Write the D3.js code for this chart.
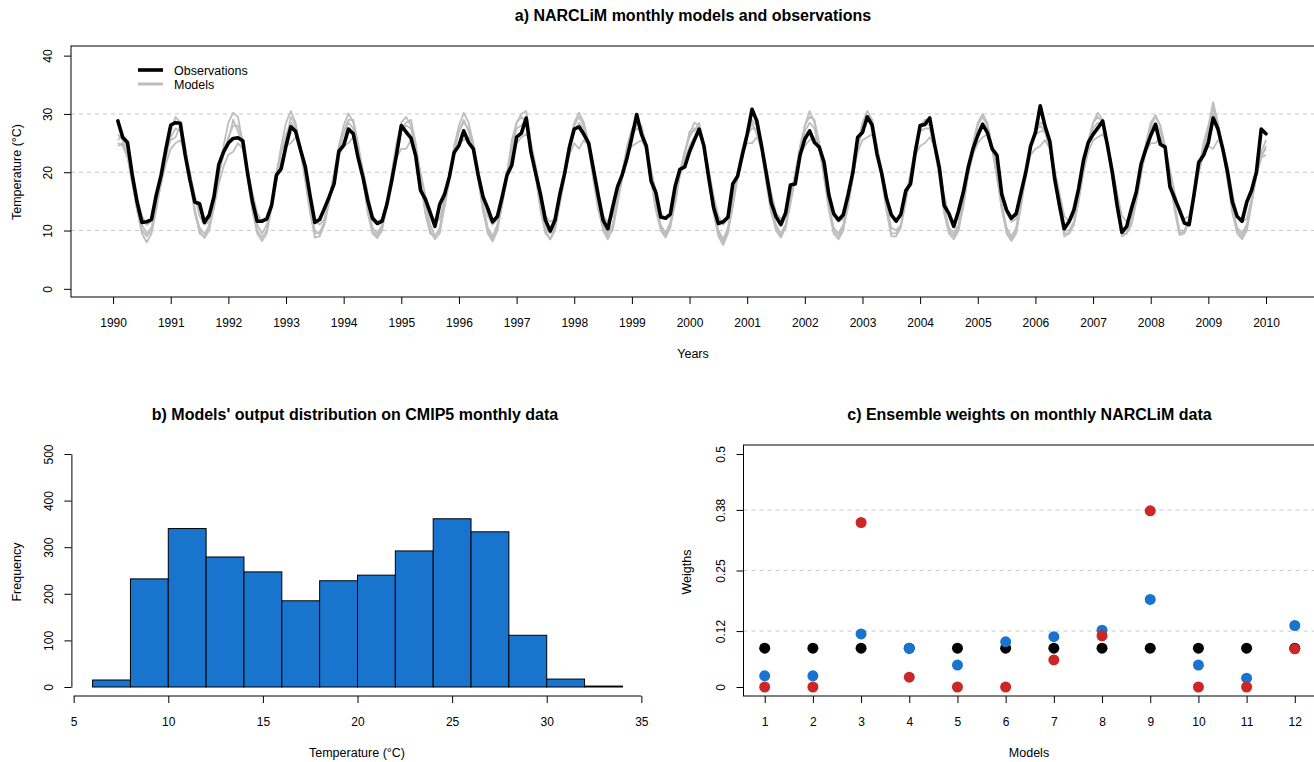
<!DOCTYPE html>
<html>
<head>
<meta charset="utf-8">
<script src="https://cdn.jsdelivr.net/npm/d3@7"></script>
<style>
  body { margin: 0; background: #fff; }
  svg text { font-family: "Liberation Sans", Arial, Helvetica, sans-serif; }
</style>
</head>
<body>
<div id="chart"></div>
<script>
/** DATA */
// monthly series, first value = Jan 1990 (plotted at 1990 + 1/12)
const startYear = 1990;
const yearTicks = [1990, 1991, 1992, 1993, 1994, 1995, 1996, 1997, 1998, 1999, 2000,
  2001, 2002, 2003, 2004, 2005, 2006, 2007, 2008, 2009, 2010];
const tempTicks = [0, 10, 20, 30, 40];
const tempGrid = [10, 20, 30];

const observations = [
  28.8, 26.0, 25.1, 19.5, 14.9, 11.4, 11.5, 11.9, 16.1, 19.5, 24.0, 28.1,
  28.5, 28.4, 23.0, 18.7, 14.9, 14.6, 11.4, 12.6, 15.8, 21.3, 23.5, 25.0,
  25.8, 25.9, 25.4, 19.8, 15.0, 11.6, 11.6, 12.0, 14.3, 19.5, 20.6, 24.5,
  27.8, 27.0, 23.9, 21.0, 16.0, 11.4, 11.9, 13.8, 15.8, 18.0, 23.6, 24.6,
  27.4, 26.6, 22.5, 19.2, 15.2, 12.1, 11.2, 11.6, 14.5, 18.5, 23.0, 28.0,
  26.9, 25.9, 22.8, 16.9, 15.4, 13.1, 10.7, 14.5, 16.2, 19.2, 23.4, 24.6,
  27.1, 25.1, 24.0, 19.5, 15.8, 13.8, 11.5, 12.4, 15.8, 19.5, 21.2, 26.0,
  26.7, 29.3, 23.4, 19.7, 16.1, 11.8, 9.9, 11.8, 16.2, 19.8, 24.3, 27.4,
  27.8, 26.5, 25.0, 20.5, 16.0, 11.8, 10.3, 14.0, 17.5, 19.6, 22.5, 26.0,
  29.9, 26.5, 24.5, 18.5, 16.5, 12.3, 12.1, 12.8, 17.6, 20.5, 20.9, 23.5,
  25.5, 27.4, 24.5, 19.0, 14.0, 11.2, 11.5, 12.3, 18.0, 19.3, 23.0, 26.5,
  30.8, 28.8, 24.5, 19.7, 14.8, 12.4, 11.0, 13.0, 17.8, 18.0, 22.9, 25.7,
  27.1, 25.1, 24.3, 21.7, 16.1, 12.9, 11.8, 12.7, 16.1, 20.0, 26.0, 26.8,
  29.5, 28.1, 23.2, 19.8, 15.5, 12.7, 11.6, 12.8, 16.8, 18.0, 23.5, 28.0,
  28.2, 29.3, 24.8, 20.8, 14.3, 12.9, 10.7, 13.4, 16.6, 20.8, 24.0, 26.3,
  28.2, 26.8, 24.0, 22.9, 16.2, 13.5, 12.1, 12.9, 16.5, 20.0, 24.5, 26.8,
  31.4, 27.9, 25.3, 18.9, 14.4, 10.3, 11.5, 13.5, 17.2, 22.0, 25.1, 26.5,
  27.6, 28.8, 24.6, 20.0, 14.4, 9.7, 10.7, 13.8, 16.6, 21.4, 24.0, 26.3,
  28.2, 24.8, 24.3, 17.5, 15.5, 13.5, 11.3, 11.0, 16.1, 21.7, 22.9, 25.1,
  29.3, 27.4, 24.0, 20.0, 14.9, 12.4, 11.6, 14.9, 16.9, 20.0, 27.4, 26.6
];

const modelA = [
  26.5, 25.5, 23.0, 18.5, 13.5, 9.5, 8.0, 9.5, 13.5, 18.5, 23.5, 27.0,
  29.5, 28.5, 24.5, 19.0, 13.0, 10.0, 8.7, 10.0, 14.0, 19.0, 24.5, 28.5,
  30.2, 29.5, 25.0, 19.5, 13.5, 9.5, 8.2, 9.5, 14.0, 19.5, 24.5, 28.5,
  30.5, 28.5, 24.0, 19.0, 13.5, 8.8, 9.0, 11.0, 15.0, 19.5, 24.5, 28.0,
  30.1, 28.5, 24.5, 19.0, 13.0, 9.5, 8.7, 10.0, 14.5, 20.0, 25.0, 28.5,
  29.5, 28.0, 24.0, 18.5, 13.0, 10.0, 8.5, 9.5, 14.5, 19.0, 24.5, 28.0,
  30.2, 28.5, 25.0, 19.0, 13.5, 9.5, 8.1, 10.0, 14.5, 19.5, 25.5, 28.5,
  30.0, 30.5, 25.0, 19.5, 13.5, 9.5, 8.5, 10.0, 15.0, 20.0, 25.0, 28.5,
  30.2, 28.5, 25.0, 19.0, 14.0, 10.0, 8.5, 10.5, 15.0, 20.0, 24.5, 27.5,
  28.5, 27.5, 24.0, 18.5, 13.5, 10.0, 8.8, 10.5, 15.0, 20.0, 23.5, 26.5,
  28.5, 28.0, 24.0, 18.5, 13.0, 9.0, 7.5, 9.5, 14.5, 19.5, 24.0, 27.0,
  29.0, 28.0, 24.0, 18.5, 13.5, 10.0, 8.8, 10.5, 15.0, 19.5, 24.5, 28.0,
  30.5, 28.5, 24.5, 19.0, 13.5, 9.5, 8.5, 10.0, 14.5, 19.5, 25.0, 28.5,
  30.5, 29.0, 24.5, 19.0, 13.5, 9.0, 9.0, 10.5, 15.0, 19.5, 24.5, 28.0,
  29.0, 29.0, 24.5, 19.0, 13.0, 9.5, 8.5, 10.0, 14.5, 20.0, 25.0, 28.5,
  30.0, 28.5, 24.0, 19.0, 14.0, 9.5, 8.2, 9.5, 14.5, 20.0, 24.5, 27.5,
  28.5, 28.0, 24.0, 18.5, 13.5, 9.0, 9.5, 11.0, 15.5, 20.5, 25.5, 28.5,
  30.2, 29.0, 24.5, 19.0, 13.5, 9.0, 9.5, 11.0, 15.0, 20.0, 25.0, 28.5,
  29.8, 28.0, 24.0, 19.0, 13.5, 9.2, 9.5, 11.5, 15.5, 20.5, 25.0, 28.0,
  32.0, 28.5, 24.0, 18.5, 13.0, 9.5, 8.5, 10.0, 14.5, 19.5, 23.5, 25.5
];

const modelB = [
  24.5, 25.0, 23.0, 19.5, 15.5, 12.5, 11.0, 11.5, 14.5, 18.0, 21.5, 24.0,
  25.0, 25.5, 23.5, 20.0, 16.0, 12.5, 11.0, 11.5, 14.0, 18.0, 21.0, 23.0,
  23.5, 25.0, 24.0, 20.5, 16.5, 13.0, 11.5, 12.0, 14.5, 18.5, 22.0, 24.5,
  25.0, 26.0, 24.5, 20.5, 16.0, 12.0, 11.0, 12.0, 15.5, 19.5, 23.0, 24.5,
  25.0, 26.0, 24.5, 20.5, 16.5, 12.5, 11.5, 12.0, 15.0, 19.0, 22.5, 24.0,
  24.0, 25.5, 24.0, 20.0, 16.0, 13.0, 11.5, 12.0, 15.5, 19.5, 23.0, 25.0,
  25.5, 26.0, 24.5, 20.5, 16.5, 12.5, 11.0, 12.0, 15.0, 19.5, 23.0, 25.0,
  26.0, 26.5, 25.0, 21.0, 16.5, 12.5, 11.5, 12.0, 15.5, 19.5, 23.0, 25.0,
  24.0, 25.5, 24.5, 20.5, 16.0, 12.5, 11.5, 12.5, 16.0, 20.0, 23.0, 24.5,
  25.0, 25.5, 24.0, 20.5, 16.5, 13.0, 12.0, 12.5, 16.0, 19.5, 22.0, 24.5,
  26.0, 26.5, 24.5, 20.5, 16.0, 12.5, 11.0, 12.0, 15.5, 19.5, 23.0, 25.0,
  25.0, 26.0, 24.5, 20.5, 16.5, 13.0, 12.0, 12.5, 16.0, 19.5, 23.0, 24.5,
  25.5, 26.0, 24.5, 21.0, 16.5, 12.5, 11.5, 12.0, 15.5, 19.5, 23.5, 25.5,
  26.0, 26.5, 24.5, 20.5, 16.0, 12.5, 11.5, 12.5, 16.0, 19.5, 23.0, 24.5,
  25.0, 26.0, 24.5, 20.5, 16.0, 12.5, 11.5, 12.0, 15.5, 19.5, 23.0, 25.0,
  26.0, 26.5, 24.5, 20.5, 16.5, 13.0, 11.5, 12.0, 15.5, 19.5, 23.0, 24.0,
  24.5, 25.5, 24.0, 20.5, 16.5, 12.5, 11.5, 12.5, 16.0, 20.0, 23.5, 25.5,
  26.0, 26.5, 25.0, 21.0, 16.5, 12.5, 11.5, 12.5, 16.0, 20.0, 23.5, 25.0,
  25.0, 26.0, 24.5, 20.5, 16.5, 13.0, 12.0, 12.5, 16.0, 20.0, 23.0, 24.5,
  24.0, 25.5, 24.5, 21.0, 16.5, 12.5, 11.5, 12.0, 15.5, 19.5, 22.5, 23.0
];

const modelC = [
  25.5, 26.5, 24.0, 20.0, 14.5, 11.0, 9.5, 10.5, 14.0, 18.5, 22.5, 26.0,
  27.5, 27.0, 23.0, 18.5, 13.5, 10.5, 9.5, 10.5, 14.5, 19.5, 23.0, 26.0,
  28.0, 28.0, 25.5, 20.0, 14.5, 11.0, 9.5, 11.0, 15.0, 19.5, 23.5, 26.5,
  28.5, 27.5, 24.5, 20.0, 14.0, 10.0, 9.5, 11.5, 15.5, 20.0, 24.0, 26.5,
  28.5, 27.5, 24.0, 19.5, 14.5, 10.5, 9.5, 11.0, 15.0, 19.5, 24.0, 27.0,
  28.0, 27.5, 24.5, 19.5, 14.5, 11.0, 9.0, 10.5, 15.0, 19.5, 24.0, 27.0,
  28.5, 27.5, 24.5, 19.5, 14.5, 10.5, 9.0, 11.0, 15.0, 20.0, 24.5, 27.5,
  28.0, 29.0, 24.5, 20.0, 14.5, 10.5, 9.5, 11.0, 15.5, 20.0, 24.5, 27.0,
  28.5, 27.5, 24.5, 19.5, 14.5, 11.0, 9.5, 11.0, 15.5, 20.0, 24.0, 26.5,
  27.5, 27.0, 23.5, 19.0, 14.5, 11.0, 9.5, 11.5, 15.5, 20.0, 23.5, 26.0,
  27.5, 27.5, 24.0, 19.5, 14.0, 10.0, 8.5, 10.5, 15.0, 20.0, 24.0, 26.5,
  27.5, 27.5, 24.0, 19.0, 14.0, 11.0, 9.5, 11.0, 15.5, 20.0, 24.0, 27.0,
  28.5, 27.5, 24.0, 19.5, 14.5, 10.5, 9.5, 11.0, 15.0, 20.0, 24.5, 27.0,
  29.0, 28.0, 24.5, 19.5, 14.5, 10.5, 10.0, 11.0, 15.5, 20.0, 24.0, 27.0,
  27.5, 27.5, 24.0, 19.5, 14.0, 10.5, 9.5, 11.0, 15.0, 20.0, 24.5, 27.0,
  28.5, 27.5, 24.0, 19.5, 14.5, 10.5, 9.0, 10.5, 15.0, 20.0, 24.0, 26.5,
  27.0, 27.0, 24.0, 19.0, 14.5, 10.0, 10.0, 11.5, 16.0, 20.5, 25.0, 27.5,
  28.5, 28.0, 24.5, 19.5, 14.0, 10.0, 10.0, 11.5, 15.5, 20.0, 24.5, 27.5,
  28.5, 27.0, 24.0, 19.5, 14.5, 10.0, 10.0, 12.0, 16.0, 20.5, 24.5, 27.0,
  30.0, 27.5, 24.0, 19.0, 14.0, 10.5, 9.5, 11.0, 15.0, 19.5, 22.5, 24.5
];

const modelD = [
  25.0, 24.5, 22.5, 18.0, 13.5, 10.0, 9.0, 10.0, 14.5, 19.0, 23.5, 25.5,
  26.0, 28.0, 24.5, 19.0, 13.5, 9.5, 9.0, 11.0, 15.0, 20.0, 23.5, 25.5,
  29.0, 27.0, 24.5, 19.0, 13.5, 10.0, 8.8, 10.0, 14.5, 20.0, 23.5, 25.5,
  29.5, 28.0, 23.5, 18.5, 13.0, 9.5, 9.5, 11.5, 15.0, 19.5, 23.0, 27.0,
  29.0, 29.0, 25.0, 19.5, 13.5, 10.0, 9.0, 10.5, 14.0, 19.0, 24.0, 27.5,
  28.5, 29.0, 25.0, 19.0, 13.0, 9.5, 9.0, 10.0, 14.0, 18.5, 23.5, 27.0,
  29.0, 27.0, 24.0, 19.0, 13.5, 10.0, 8.5, 10.5, 14.5, 19.0, 24.0, 28.5,
  29.5, 28.5, 24.0, 19.0, 13.5, 10.0, 8.5, 10.5, 14.5, 19.0, 24.0, 28.0,
  29.5, 28.0, 24.0, 18.5, 13.5, 10.5, 9.0, 10.0, 14.5, 19.0, 23.5, 27.0,
  28.0, 28.0, 24.5, 19.0, 13.5, 10.5, 9.0, 11.0, 14.5, 19.5, 23.0, 27.0,
  27.0, 28.5, 24.5, 19.0, 13.5, 9.5, 8.0, 10.0, 14.0, 19.0, 23.5, 26.0,
  28.5, 26.5, 23.5, 18.0, 13.0, 10.5, 9.0, 10.5, 14.5, 19.0, 23.5, 28.0,
  29.5, 29.0, 25.0, 20.0, 14.0, 10.0, 9.0, 10.5, 14.0, 19.0, 24.0, 28.5,
  29.5, 29.0, 24.5, 19.0, 13.5, 9.5, 9.5, 11.0, 15.0, 19.5, 23.5, 27.5,
  28.5, 28.0, 25.0, 19.5, 13.5, 10.0, 9.0, 10.5, 14.0, 19.5, 24.5, 28.0,
  29.5, 28.0, 24.5, 19.5, 13.5, 10.0, 8.5, 10.0, 14.0, 19.5, 24.0, 27.0,
  28.0, 27.0, 24.0, 19.0, 13.5, 9.5, 9.5, 11.0, 15.0, 20.0, 25.0, 28.5,
  29.5, 28.5, 25.0, 19.5, 13.5, 9.5, 9.5, 11.5, 15.0, 19.5, 24.5, 28.0,
  29.5, 28.0, 24.5, 19.0, 13.5, 9.5, 9.8, 11.5, 15.5, 20.0, 24.0, 27.5,
  31.0, 28.0, 24.0, 19.0, 13.5, 10.0, 9.0, 10.5, 15.0, 19.5, 23.0, 24.0
];
const models = [modelA, modelB, modelC, modelD];

// histogram of model output (bins of 2 degC)
const histBreaks = [6, 8, 10, 12, 14, 16, 18, 20, 22, 24, 26, 28, 30, 32, 34];
const histCounts = [15, 232, 340, 279, 247, 185, 228, 240, 292, 361, 333, 111, 17, 2];
const histXTicks = [5, 10, 15, 20, 25, 30, 35];
const histYTicks = [0, 100, 200, 300, 400, 500];

// ensemble weights
const modelIds = [1, 2, 3, 4, 5, 6, 7, 8, 9, 10, 11, 12];
const equalWeights = [0.0833, 0.0833, 0.0833, 0.0833, 0.0833, 0.0833, 0.0833, 0.0833, 0.0833, 0.0833, 0.0833, 0.0833];
const blueWeights = [0.024, 0.024, 0.114, 0.083, 0.047, 0.097, 0.108, 0.122, 0.188, 0.047, 0.019, 0.132];
const redWeights = [0.0, 0.0, 0.353, 0.021, 0.0, 0.0, 0.058, 0.110, 0.378, 0.0, 0.0, 0.082];
const weightTicks = [0, 0.12, 0.25, 0.38, 0.5];
const weightTickLabels = ["0", "0.12", "0.25", "0.38", "0.5"];
const weightGrid = [0.12, 0.25, 0.38];

/** CONSTANTS */
const width = 1314, height = 762;
const gridColor = "#c8c8c8";
const blue = "#1874CD", red = "#CD2626", gray = "#bebebe";

const svg = d3.select("#chart").append("svg")
  .attr("width", width)
  .attr("height", height);

svg.append("rect").attr("width", width).attr("height", height).attr("fill", "#fff");

// R-ish axis styling: 12px labels, rotated y labels
function styleAxis(g) {
  g.selectAll("text").attr("font-size", 12).attr("fill", "#000")
    .attr("font-family", '"Liberation Sans", Arial, sans-serif');
  g.selectAll(".tick line").attr("stroke", "#000");
}
function bottomLabels(g) {
  g.selectAll("text").attr("y", 30).attr("dy", 0);
}
function leftLabels(g) {
  g.selectAll("text")
    .attr("x", 0).attr("dy", 0)
    .attr("text-anchor", "middle")
    .attr("transform", "translate(-18.7,0) rotate(-90)");
}
function addText(x, y, txt, opts = {}) {
  const t = svg.append("text")
    .attr("x", x).attr("y", y)
    .attr("text-anchor", opts.anchor || "middle")
    .attr("font-size", opts.size || 12.5)
    .attr("font-weight", opts.bold ? "bold" : null)
    .attr("fill", "#000")
    .text(txt);
  if (opts.rotate) t.attr("transform", `rotate(-90, ${x}, ${y})`);
  return t;
}

/** PANEL A */
const boxA = { left: 71, right: 1315, top: 46, bottom: 297 };
const xA = d3.scaleLinear().domain([1989.27, 2010.85]).range([boxA.left, boxA.right]);
const yA = d3.scaleLinear().domain([-1.4, 41.65]).range([boxA.bottom, boxA.top]);
const monthTime = i => startYear + (i + 1) / 12;

svg.append("g").selectAll("line")
  .data(tempGrid)
  .join("line")
  .attr("x1", boxA.left).attr("x2", boxA.right)
  .attr("y1", d => yA(d)).attr("y2", d => yA(d))
  .attr("stroke", gridColor).attr("stroke-dasharray", "4,4");

const lineA = d3.line().x((d, i) => xA(monthTime(i))).y(d => yA(d));

svg.append("g").selectAll("path")
  .data(models)
  .join("path")
  .attr("d", lineA)
  .attr("fill", "none")
  .attr("stroke", gray)
  .attr("stroke-width", 1.8)
  .attr("stroke-linejoin", "round");

svg.append("path")
  .attr("d", lineA(observations))
  .attr("fill", "none")
  .attr("stroke", "#000")
  .attr("stroke-width", 3.6)
  .attr("stroke-linejoin", "round")
  .attr("stroke-linecap", "round");

svg.append("rect")
  .attr("x", boxA.left).attr("y", boxA.top)
  .attr("width", boxA.right - boxA.left).attr("height", boxA.bottom - boxA.top)
  .attr("fill", "none").attr("stroke", "#000");

svg.append("g")
  .attr("transform", `translate(0,${boxA.bottom})`)
  .call(d3.axisBottom(xA).tickValues(yearTicks).tickFormat(d3.format("d")).tickSize(7).tickSizeOuter(0))
  .call(g => g.select(".domain").remove())
  .call(styleAxis).call(bottomLabels);

svg.append("g")
  .attr("transform", `translate(${boxA.left},0)`)
  .call(d3.axisLeft(yA).tickValues(tempTicks).tickSize(7).tickSizeOuter(0))
  .call(g => g.select(".domain").remove())
  .call(styleAxis).call(leftLabels);

// legend
const legendA = [
  { label: "Observations", color: "#000", w: 3.6, y: 70 },
  { label: "Models", color: gray, w: 3, y: 84 }
];
const lg = svg.append("g");
lg.selectAll("line").data(legendA).join("line")
  .attr("x1", 138).attr("x2", 163)
  .attr("y1", d => d.y).attr("y2", d => d.y)
  .attr("stroke", d => d.color).attr("stroke-width", d => d.w);
lg.selectAll("text").data(legendA).join("text")
  .attr("x", 174).attr("y", d => d.y + 4.5)
  .attr("font-size", 12.5).attr("fill", "#000")
  .text(d => d.label);

addText(693, 21, "a) NARCLiM monthly models and observations", { size: 16, bold: true });
addText(693, 358, "Years");
addText(20.5, 172, "Temperature (°C)", { rotate: true });

/** PANEL B */
const xB = d3.scaleLinear().domain([4.88, 35.12]).range([71.4, 643.6]);
const yB = d3.scaleLinear().domain([0, 500]).range([687, 454]);

svg.append("g").selectAll("rect")
  .data(histCounts)
  .join("rect")
  .attr("x", (d, i) => xB(histBreaks[i]))
  .attr("width", (d, i) => xB(histBreaks[i + 1]) - xB(histBreaks[i]))
  .attr("y", d => yB(d))
  .attr("height", d => yB(0) - yB(d))
  .attr("fill", blue)
  .attr("stroke", "#000")
  .attr("stroke-width", 1);

svg.append("g")
  .attr("transform", "translate(0,696)")
  .call(d3.axisBottom(xB).tickValues(histXTicks).tickSize(7).tickSizeOuter(0))
  .call(g => g.select(".domain").remove())
  .call(g => g.append("line")
    .attr("x1", xB(histXTicks[0])).attr("x2", xB(histXTicks[histXTicks.length - 1]))
    .attr("stroke", "#000"))
  .call(styleAxis).call(bottomLabels);

svg.append("g")
  .attr("transform", "translate(71.4,0)")
  .call(d3.axisLeft(yB).tickValues(histYTicks).tickSize(7).tickSizeOuter(0))
  .call(g => g.select(".domain").attr("stroke", "#000"))
  .call(styleAxis).call(leftLabels);

addText(355, 420, "b) Models' output distribution on CMIP5 monthly data", { size: 16, bold: true });
addText(357, 757, "Temperature (°C)");
addText(20.5, 572, "Frequency", { rotate: true });

/** PANEL C */
const boxC = { left: 743.5, right: 1316, top: 445, bottom: 696 };
const xC = d3.scaleLinear().domain([0.56, 12.44]).range([boxC.left, boxC.right]);
const yC = d3.scaleLinear().domain([0, 0.5]).range([687, 454]);

svg.append("g").selectAll("line")
  .data(weightGrid)
  .join("line")
  .attr("x1", boxC.left).attr("x2", boxC.right)
  .attr("y1", d => yC(d)).attr("y2", d => yC(d))
  .attr("stroke", gridColor).attr("stroke-dasharray", "4,4");

const pointSets = [
  { values: equalWeights, color: "#000" },
  { values: blueWeights, color: blue },
  { values: redWeights, color: red }
];
pointSets.forEach(set => {
  svg.append("g").selectAll("circle")
    .data(set.values)
    .join("circle")
    .attr("cx", (d, i) => xC(modelIds[i]))
    .attr("cy", d => yC(d))
    .attr("r", 5.5)
    .attr("fill", set.color);
});

svg.append("rect")
  .attr("x", boxC.left).attr("y", boxC.top)
  .attr("width", boxC.right - boxC.left).attr("height", boxC.bottom - boxC.top)
  .attr("fill", "none").attr("stroke", "#000");

svg.append("g")
  .attr("transform", `translate(0,${boxC.bottom})`)
  .call(d3.axisBottom(xC).tickValues(modelIds).tickSize(7).tickSizeOuter(0))
  .call(g => g.select(".domain").remove())
  .call(styleAxis).call(bottomLabels);

svg.append("g")
  .attr("transform", `translate(${boxC.left},0)`)
  .call(d3.axisLeft(yC).tickValues(weightTicks)
    .tickFormat((d, i) => weightTickLabels[i]).tickSize(7).tickSizeOuter(0))
  .call(g => g.select(".domain").remove())
  .call(styleAxis).call(leftLabels);

addText(1029.5, 420, "c) Ensemble weights on monthly NARCLiM data", { size: 16, bold: true });
addText(1029, 757, "Models");
addText(691, 572, "Weigths", { rotate: true });
</script>
</body>
</html>
